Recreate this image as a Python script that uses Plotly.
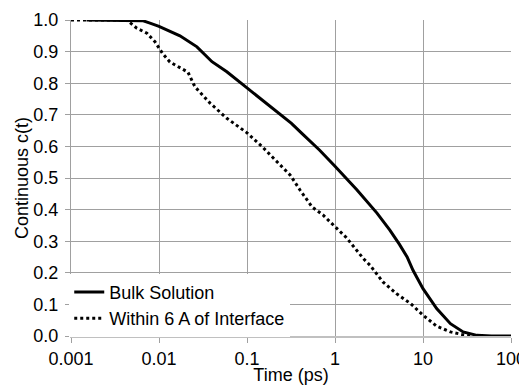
import plotly.graph_objects as go

# Data
bulk_t = [0.0015, 0.003, 0.005, 0.0065, 0.0079, 0.01, 0.0173, 0.027, 0.04, 0.059,
          0.1, 0.141, 0.2, 0.32, 0.42, 0.67, 1.0, 1.78, 3.0, 4.2, 5.4, 6.6, 7.7,
          10, 14.3, 20.5, 28.6, 41, 60, 100]
bulk_c = [1.0, 1.0, 1.0, 0.998, 0.99, 0.98, 0.95, 0.915, 0.868, 0.836,
          0.785, 0.752, 0.718, 0.673, 0.641, 0.588, 0.537, 0.462, 0.389, 0.335, 0.29, 0.25, 0.208,
          0.15, 0.087, 0.039, 0.013, 0.002, 0.0, 0.0]

within_t = [0.001, 0.002, 0.0043, 0.0056, 0.0073, 0.009, 0.011, 0.0133, 0.0213, 0.0257,
            0.038, 0.059, 0.1, 0.15, 0.22, 0.31, 0.40, 0.55, 0.73, 1.0, 1.35, 2.1, 2.5,
            3.5, 5.0, 7.2, 10, 14.3, 20.5, 27.6, 35, 45]
within_c = [1.0, 1.0, 1.0, 0.974, 0.958, 0.931, 0.894, 0.867, 0.835, 0.788,
            0.737, 0.689, 0.643, 0.598, 0.552, 0.509, 0.462, 0.408, 0.383, 0.345, 0.311, 0.245, 0.224,
            0.171, 0.134, 0.103, 0.066, 0.031, 0.013, 0.005, 0.001, 0.0]

x_tickvals = [0.001, 0.01, 0.1, 1, 10, 100]
x_ticktext = ["0.001", "0.01", "0.1", "1", "10", "100"]
y_tickvals = [0.0, 0.1, 0.2, 0.3, 0.4, 0.5, 0.6, 0.7, 0.8, 0.9, 1.0]

FONT = "Liberation Sans, Arial, sans-serif"
GRID = "#a0a0a0"

fig = go.Figure()
fig.add_trace(go.Scatter(x=bulk_t, y=bulk_c, mode="lines", name="Bulk Solution",
                         line=dict(color="black", width=3)))
fig.add_trace(go.Scatter(x=within_t, y=within_c, mode="lines", name="Within 6 A of Interface",
                         line=dict(color="black", width=3, dash="3px,3px")))

# The page body adds an 8px margin, so the figure is sized to 519x377
fig.update_layout(
    width=519, height=377,
    margin=dict(l=63, r=16, t=12, b=49),
    paper_bgcolor="white", plot_bgcolor="white",
    font=dict(family=FONT, size=18, color="black"),
    showlegend=True,
    legend=dict(x=-0.004, y=0.197, xanchor="left", yanchor="top",
                bgcolor="white", borderwidth=0, font=dict(size=18),
                itemwidth=30, tracegroupgap=0),
    xaxis=dict(type="log", range=[-3, 2], tickvals=x_tickvals, ticktext=x_ticktext,
               showgrid=True, gridcolor=GRID, gridwidth=1,
               showline=True, linecolor="#c0c0c0", linewidth=2,
               ticks="outside", ticklen=5, tickcolor=GRID,
               zeroline=False, automargin=False,
               title=dict(text="Time (ps)", standoff=5, font=dict(size=18))),
    yaxis=dict(range=[0, 1], tickvals=y_tickvals, tickformat=".1f",
               showgrid=True, gridcolor=GRID, gridwidth=1,
               showline=True, linecolor=GRID, linewidth=1,
               ticks="outside", ticklen=5, tickcolor=GRID,
               ticklabelstandoff=3,
               zeroline=False, automargin=False,
               title=dict(text="Continuous c(t)", standoff=0, font=dict(size=18))),
)

fig.write_html("out.html")
